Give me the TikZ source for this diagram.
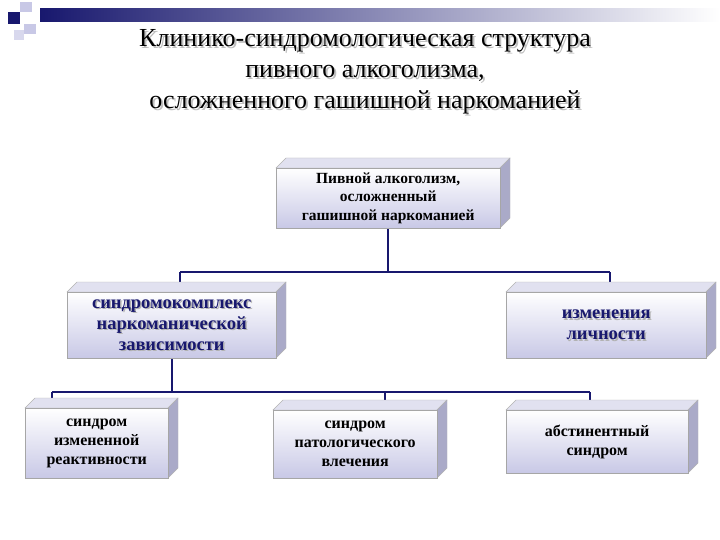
\documentclass[tikz,border=0pt]{standalone}
\usepackage{fontspec}
\setmainfont{Liberation Serif}
\usetikzlibrary{calc,shadings}
\definecolor{navy}{RGB}{24,24,110}
\definecolor{lav}{RGB}{200,200,230}
\definecolor{sidec}{RGB}{170,170,200}
\definecolor{topc}{RGB}{225,225,240}
\tikzset{
 box/.style={draw=gray!70,thin,top color=white,bottom color=lav,align=center,inner sep=2pt},
 lvl2/.style={text=navy,font=\bfseries\fontsize{18.5}{21}\selectfont},
 lvl3/.style={text=black,font=\bfseries\fontsize{16}{19}\selectfont},
 lvl1/.style={font=\bfseries\fontsize{15.5}{18.5}\selectfont},
 conn/.style={draw=navy,line width=2pt},
 ttl/.style={font=\fontsize{26}{31}\selectfont,align=center}
}
\newcommand{\cuboid}[5]{% name, x1,y1,x2,y2
 \fill[topc,draw=gray!60] (#2,#3) -- (#2+10,#3-10) -- (#4+10,#3-10) -- (#4,#3) -- cycle;
 \fill[sidec,draw=gray!60] (#4,#3) -- (#4+10,#3-10) -- (#4+10,#5-10) -- (#4,#5) -- cycle;
 \node[box,minimum width={(#4-#2)*1pt},minimum height={(#5-#3)*1pt},anchor=north west] (#1) at (#2,#3) {};
}
\begin{document}
\begin{tikzpicture}[x=1pt,y=-1pt]
\useasboundingbox[fill=white] (0,0) rectangle (720,540);
% header decoration
\shade[left color=navy,right color=white] (40,9) rectangle (720,22);
\fill[navy] (8,12) rectangle (20,24);
\fill[lav] (20,2) rectangle (32,12);
\fill[lav] (24,24) rectangle (36,34);
\fill[lav!70] (14,30) rectangle (24,40);
% title
\node[ttl,text=gray!50] at (367,74) {Клинико-синдромологическая структура\\пивного алкоголизма,\\осложненного гашишной наркоманией};
\node[ttl] (title) at (365,72) {Клинико-синдромологическая структура\\пивного алкоголизма,\\осложненного гашишной наркоманией};
% connectors
\coordinate (j1) at (388,272);
\coordinate (jl) at (180,272);
\coordinate (jr) at (610,272);
\coordinate (j2) at (172,392);
\coordinate (kl) at (52,392);
\coordinate (km) at (385,392);
\coordinate (kr) at (590,392);
\draw[conn] (388,228) -- (j1);
\draw[conn] (jl) -- (jr);
\draw[conn] (jl) -- (180,284);
\draw[conn] (jr) -- (610,284);
\draw[conn] (172,358) -- (j2);
\draw[conn] (kl) -- (kr);
\draw[conn] (kl) -- (52,400);
\draw[conn] (km) -- (385,402);
\draw[conn] (kr) -- (590,402);
% boxes
\cuboid{top}{276}{168}{500}{228}
\node[lvl1,align=center] (t1) at (top.center) {Пивной алкоголизм,\\осложненный\\гашишной наркоманией};
\cuboid{l2a}{67}{292}{276}{358}
\node[lvl2,align=center,text=gray!60] (s2a) at ($(l2a.center)+(1.5,1.5)$) {синдромокомплекс\\наркоманической\\зависимости};
\node[lvl2,align=center] (t2a) at (l2a.center) {синдромокомплекс\\наркоманической\\зависимости};
\cuboid{l2b}{506}{292}{706}{358}
\node[lvl2,align=center,text=gray!60] (s2b) at ($(l2b.center)+(1.5,1.5)$) {изменения\\личности};
\node[lvl2,align=center] (t2b) at (l2b.center) {изменения\\личности};
\cuboid{l3a}{25}{408}{168}{478}
\node[lvl3,align=center] (t3a) at (l3a.center) {синдром\\измененной\\реактивности};
\cuboid{l3b}{273}{410}{437}{478}
\node[lvl3,align=center] (t3b) at (l3b.center) {синдром\\патологического\\влечения};
\cuboid{l3c}{506}{410}{688}{473}
\node[lvl3,align=center] (t3c) at (l3c.center) {абстинентный\\синдром};
\end{tikzpicture}
\end{document}
